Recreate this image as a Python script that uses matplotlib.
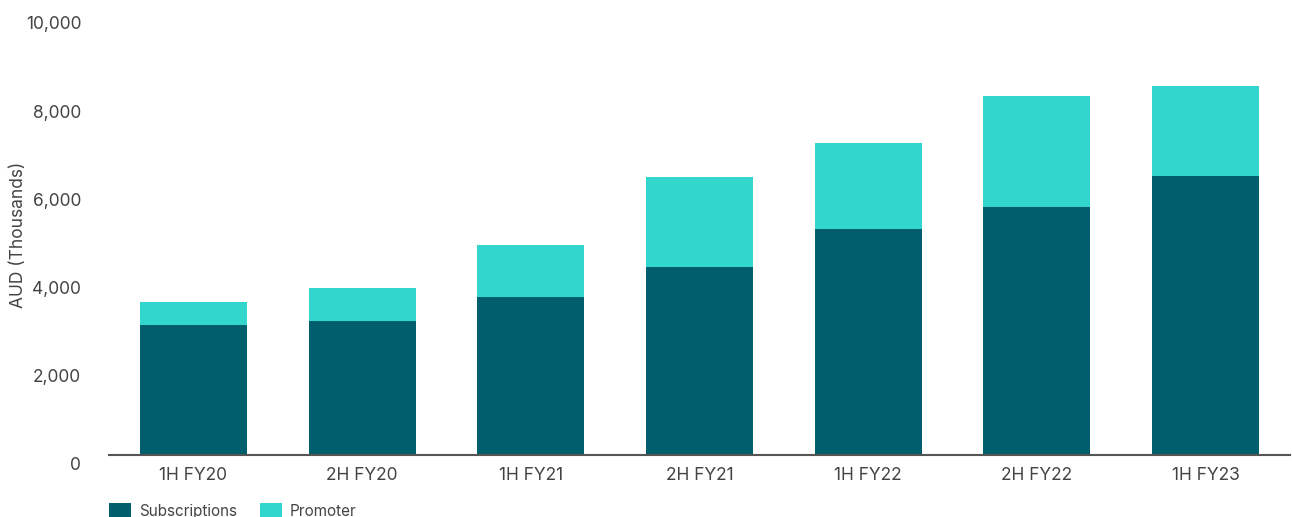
import matplotlib.pyplot as plt
import matplotlib.transforms as mtransforms
import numpy as np

plt.rcParams['font.family'] = ['Inter', 'DejaVu Sans']

# Data (AUD thousands)
periods = ['1H FY20', '2H FY20', '1H FY21', '2H FY21', '1H FY22', '2H FY22', '1H FY23']
subscriptions = [2950, 3040, 3580, 4260, 5125, 5625, 6330]
promoter = [520, 750, 1180, 2040, 1950, 2515, 2040]

dark = '#005E6D'
light = '#32D6CC'
text_col = '#444444'

fig = plt.figure(figsize=(12.92, 5.17), dpi=100)
ax = fig.add_axes([109 / 1292, 62 / 517, 1181 / 1292, 441 / 517])

x = np.arange(len(periods))
ax.bar(x, subscriptions, width=0.634, color=dark, label='Subscriptions')
ax.bar(x, promoter, width=0.634, bottom=subscriptions, color=light, label='Promoter')

ax.set_xlim(-0.5, len(periods) - 0.5)
ax.set_ylim(0, 10000)
ax.set_yticks(np.arange(0, 10001, 2000))
ax.set_yticklabels([f'{v:,}' for v in range(0, 10001, 2000)])
ax.set_xticks(x)
ax.set_xticklabels(periods)

for s in ['top', 'right', 'left']:
    ax.spines[s].set_visible(False)
ax.spines['bottom'].set_color('#555555')
ax.spines['bottom'].set_linewidth(1.5)

ax.tick_params(axis='y', length=0, pad=20, labelsize=12.5, labelcolor=text_col)
ax.tick_params(axis='x', length=0, pad=9, labelsize=12.5, labelcolor=text_col)

# y labels sit a little below their tick positions in the original
shift = mtransforms.ScaledTranslation(0, -9 / 100, fig.dpi_scale_trans)
for lab in ax.get_yticklabels():
    lab.set_transform(lab.get_transform() + shift)

ax.set_ylabel('AUD (Thousands)', fontsize=12.5, color=text_col)
ax.yaxis.set_label_coords(-82 / 1181, 0.5)

ax.legend(loc='lower left', bbox_to_anchor=(109 / 1292, -0.004), bbox_transform=fig.transFigure,
          ncol=2, frameon=False, fontsize=11, handlelength=1.45, handleheight=1.2,
          handletextpad=0.5, columnspacing=1.5, borderpad=0, borderaxespad=0,
          labelcolor=text_col)

fig.savefig('out.png', dpi=100)
